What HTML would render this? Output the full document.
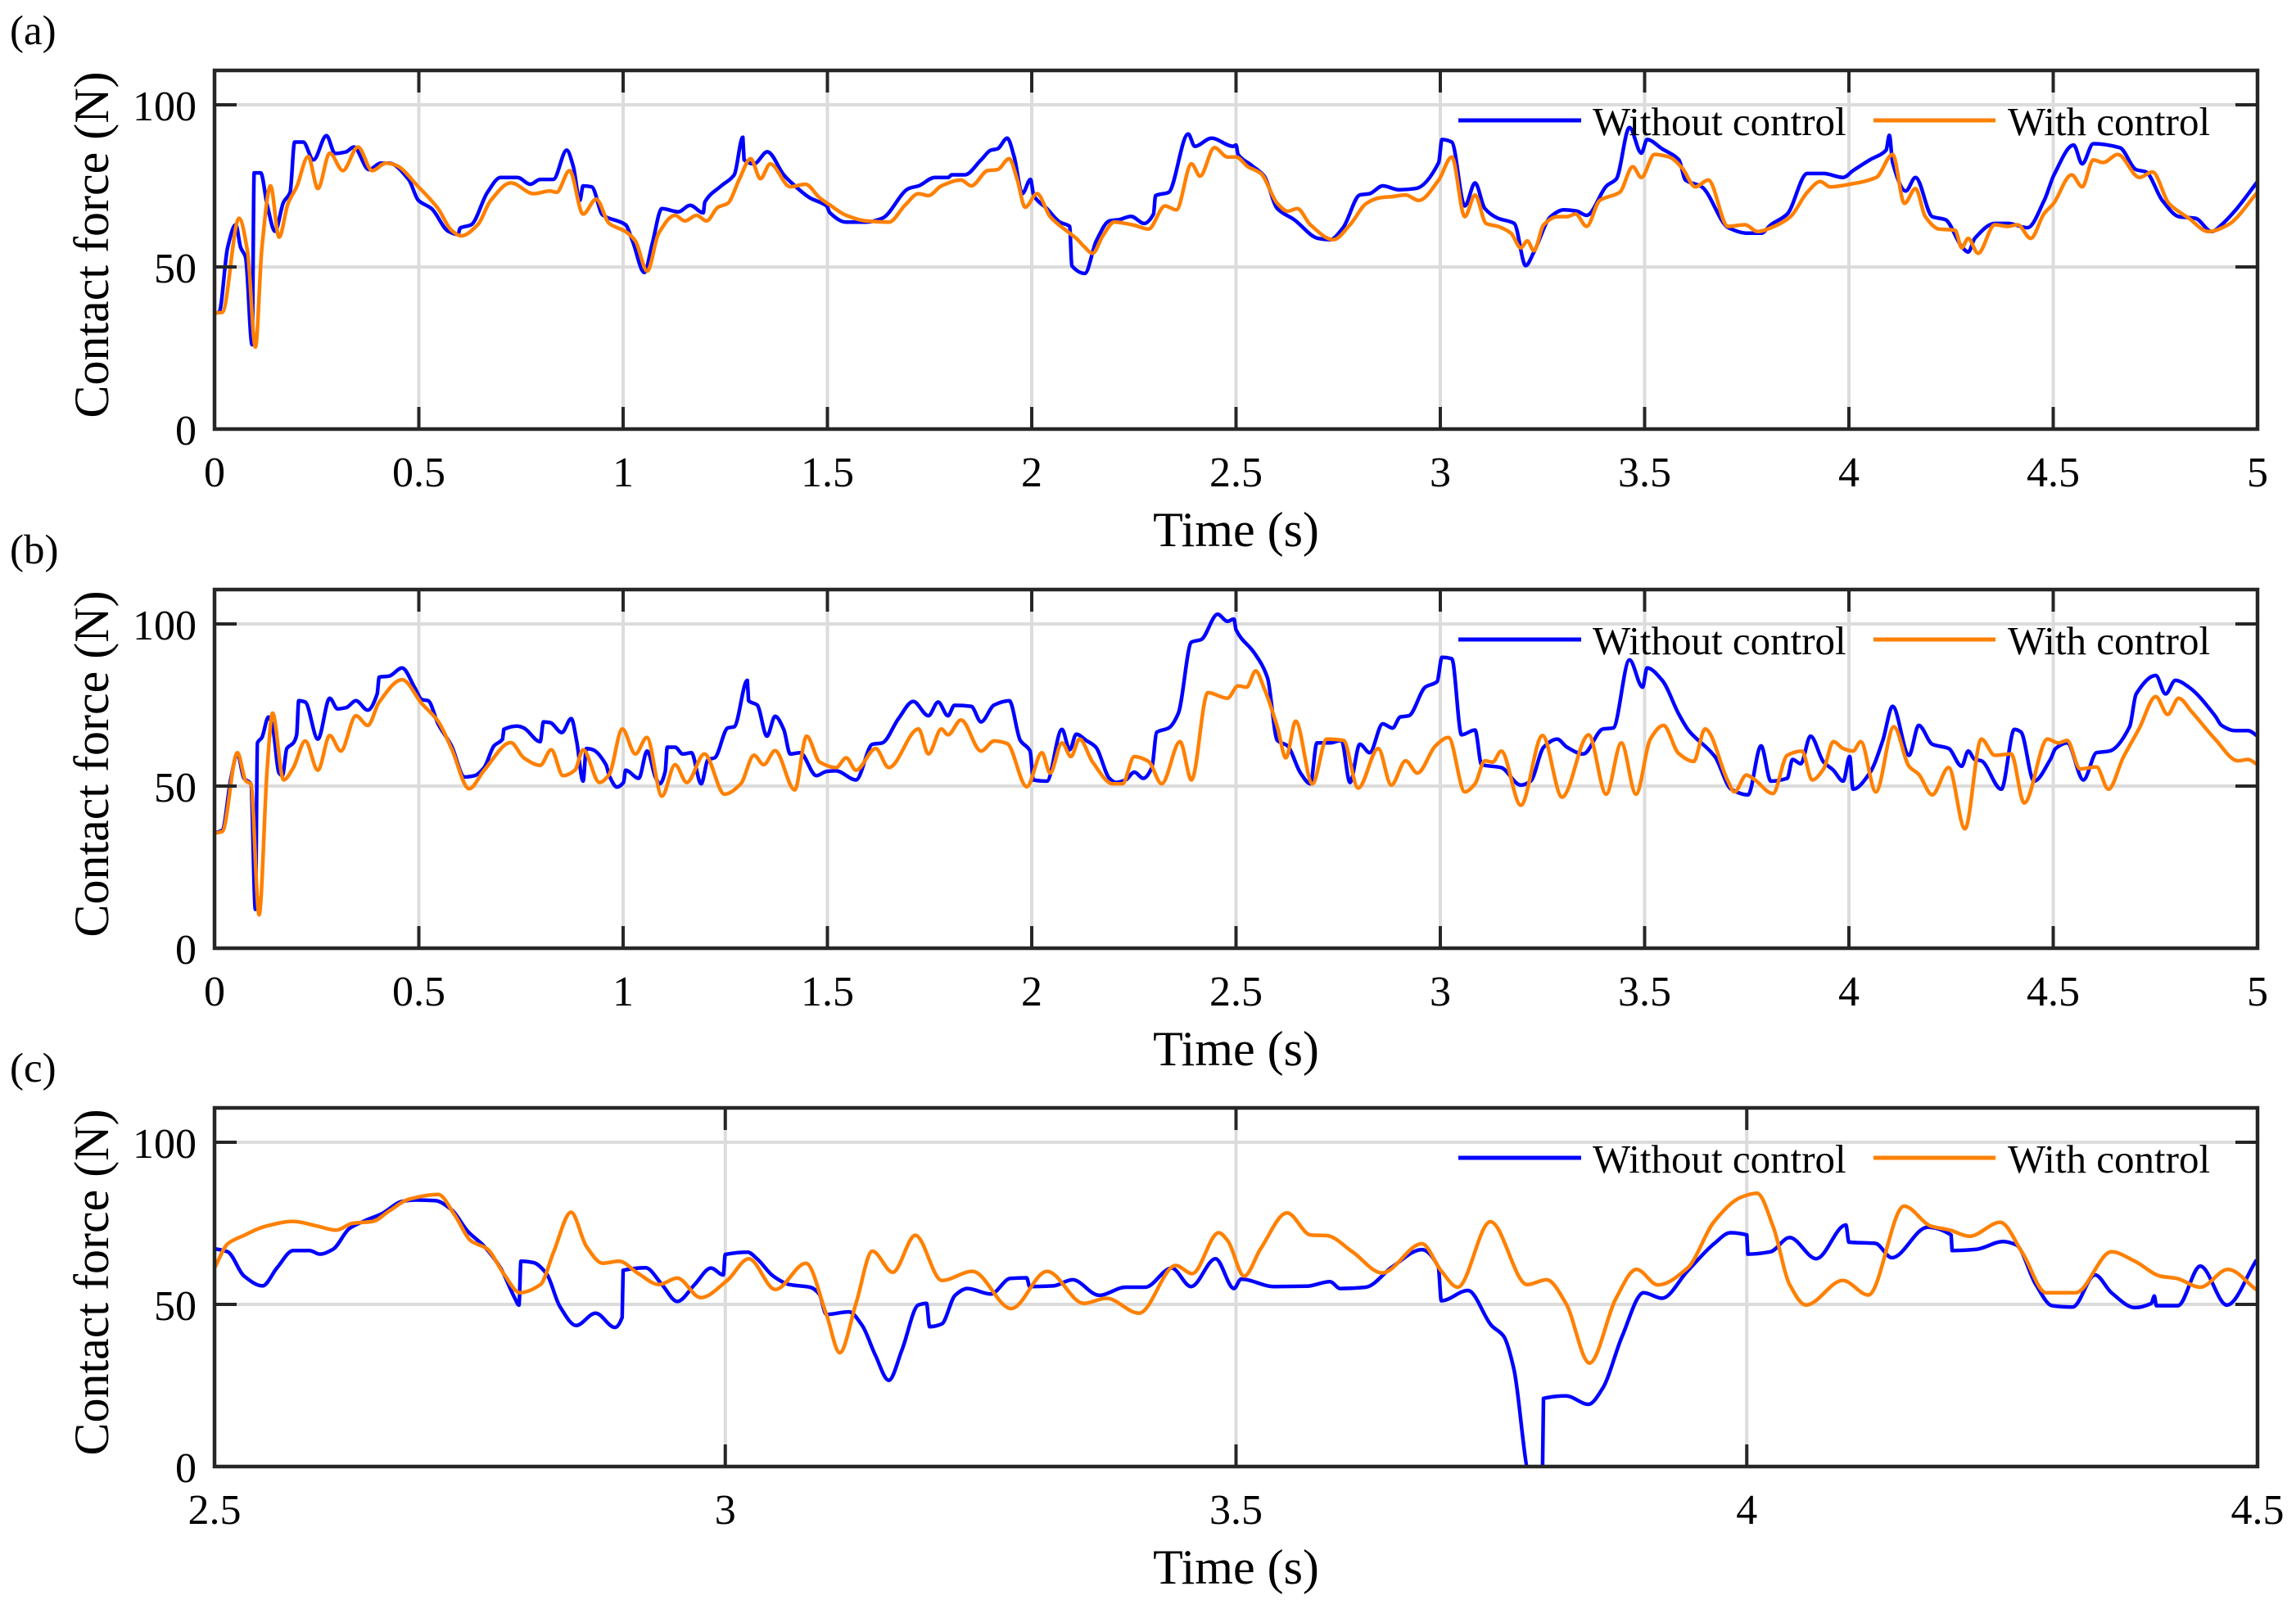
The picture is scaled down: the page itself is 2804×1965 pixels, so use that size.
<!DOCTYPE html>
<html><head><meta charset="utf-8"><title>Contact force</title>
<style>
html,body{margin:0;padding:0;background:#fff;}
svg{display:block;font-family:"Liberation Serif","Times New Roman",serif;}
</style></head>
<body>
<svg id="fig" xmlns="http://www.w3.org/2000/svg" width="2804" height="1965" viewBox="0 0 2804 1965">
<rect x="0" y="0" width="2804" height="1965" fill="#fff"/>
</svg>
<script>
// ---------- Panel (a) data ----------
const aBlueT=[0,.011,.032,.052,.064,.076,.092,.097,.113,.129,.148,.169,.185,.196,.217,.242,.274,.295,.322,.341,.378,.407,.427,.475,.499,.531,.572,.596,.601,.628,.668,.700,.741,.773,.797,.829,.862,.878,.894,.902,.923,.950,1.006,1.023,1.052,1.071,1.095,1.135,1.164,1.196,1.200,1.240,1.272,1.293,1.296,1.320,1.353,1.393,1.409,1.457,1.498,1.506,1.546,1.594,1.634,1.699,1.723,1.763,1.796,1.804,1.836,1.876,1.900,1.916,1.940,1.957,1.977,1.997,2.005,2.037,2.069,2.093,2.098,2.130,2.158,2.190,2.214,2.243,2.275,2.298,2.303,2.335,2.383,2.399,2.440,2.493,
2.5,2.505,2.537,2.569,2.601,2.642,2.701,2.730,2.762,2.803,2.827,2.859,2.899,2.940,2.996,3.004,3.028,3.060,3.085,3.109,3.141,3.181,3.209,3.229,3.270,3.302,3.334,3.358,3.407,3.431,3.463,3.492,3.506,3.543,3.584,3.600,3.640,3.705,3.753,3.785,3.809,3.849,3.898,3.938,3.986,4.010,4.051,4.091,4.099,4.107,4.139,4.163,4.204,4.236,4.276,4.292,4.308,4.357,4.389,4.437,4.478,4.502,4.550,4.571,4.598,4.663,4.703,4.727,4.767,4.808,4.848,4.888,4.912,4.944,5.0];
const aBlueV=[35.8,36,56,63,56,53,26,79,79,69,61,70,73,88.5,88.5,83,90.5,85,85.5,87,80,82,82,77,70.5,68,61,60,62,63,73,77.6,77.6,75.5,77,77,86,81,70.5,75,74.7,66,63,58,48.3,57,68,67,69,66.7,70,75,78.4,90,83,81.8,85.5,78.4,76.3,71.3,68.8,66.7,63.8,63.8,65,74.2,75,77.6,77.6,78.4,78.4,83,86,86.4,89.7,84,72.6,77,72,68,63.8,62.5,50.4,48,58,64.2,64.6,65.6,63.4,66.3,72,73,91,87.2,89.7,87.2,
87.6,84.7,81.4,78,68,64.6,58.8,58.4,62.1,72.2,72.6,75,73.8,74.2,82.2,89.3,88.5,68.8,75.9,68,65,63.4,50.4,54.6,65.5,67.6,67.2,65.9,75,77.2,93,85.1,89.3,86.4,83,76.8,74.7,62.1,60.4,60.4,63,66.3,78.8,78.8,77.6,79.7,83,86,90.6,82.2,73.4,77.6,65.5,64.6,56.3,54.6,58.8,63.4,63.4,62.1,70.5,78.4,87.6,81.8,88,86.8,80,79.3,70.5,65.5,65,60.9,63,67.2,76.3];
const aOrangeT=[0,.019,.060,.081,.100,.116,.137,.158,.180,.201,.229,.253,.282,.314,.351,.386,.419,.443,.499,.547,.580,.604,.644,.676,.725,.781,.821,.837,.869,.902,.934,.966,1.006,1.030,1.059,1.087,1.127,1.151,1.180,1.204,1.232,1.256,1.285,1.312,1.336,1.360,1.409,1.446,1.481,1.505,1.546,1.594,1.650,1.691,1.723,1.747,1.779,1.827,1.852,1.892,1.916,1.945,1.964,1.984,2.013,2.045,2.093,2.109,2.128,2.149,2.174,2.202,2.246,2.286,2.326,2.354,2.391,2.412,2.447,2.479,
2.5,2.529,2.561,2.601,2.626,2.650,2.682,2.738,2.779,2.819,2.851,2.883,2.915,2.947,2.996,3.028,3.060,3.085,3.112,3.141,3.173,3.197,3.213,3.229,3.253,3.286,3.310,3.331,3.358,3.390,3.439,3.471,3.492,3.524,3.560,3.592,3.624,3.656,3.704,3.745,3.777,3.817,3.857,3.898,3.930,3.954,4.002,4.067,4.107,4.136,4.163,4.187,4.220,4.260,4.276,4.292,4.316,4.357,4.389,4.413,4.445,4.477,4.501,4.545,4.571,4.598,4.622,4.658,4.711,4.743,4.783,4.832,4.880,4.928,5.0];
const aOrangeV=[35.8,36,65,54.6,25.3,56,75,59.2,69.6,74.7,84,74.2,85.1,79.7,87,79.7,82,81.4,74.7,68,61.3,59.6,63,70.5,75.9,72.6,73.4,73,79.7,66.3,70.9,63.4,60.9,58,48.7,60.4,65.9,64.2,65.9,64.2,68.4,69.6,77.2,83.4,77.2,81.8,74.7,75.5,71.3,69.2,65.9,64.2,63.8,69.2,72.6,72,75,76.8,75,79.7,80,83.4,77.2,68.4,72.6,65.5,60.4,58.8,56.3,54.2,59.6,63.8,63,61.7,68.8,67.6,81.8,78,86.8,83.9,
83.9,80.9,78.8,69.6,67.2,68,63,58.4,63,69.6,71.3,71.7,72.2,70.5,76.8,83.9,65.5,72.2,63.4,62.5,60.4,55.9,58,55,63,65.5,65.5,66.3,62.5,70.5,73,80.9,77.6,84.7,83.9,80.5,74.7,76.8,62.5,63,60.9,62.5,65.5,73,76.3,74.7,75.5,77.6,84.7,69.6,74.2,65.5,61.7,61.3,55.9,58.8,54.2,63,62.5,63,58.8,66.3,69.6,78.4,74.7,83,82.2,84.7,77.6,79.3,69.6,65,60.9,63,73];

// ---------- Panel (b) data ----------
const bBlueT=[0,.019,.040,.056,.072,.089,.100,.105,.116,.132,.142,.158,.166,.177,.193,.201,.206,.222,.253,.282,.301,.322,.346,.375,.398,.403,.427,.459,.491,.507,.523,.547,.580,.612,.636,.660,.684,.705,.708,.741,.757,.797,.805,.821,.850,.873,.886,.902,.910,.926,.958,.966,.985,1.001,1.006,1.038,1.059,1.079,1.090,1.103,1.108,1.127,1.146,1.167,1.191,1.208,1.224,1.256,1.272,1.304,1.307,1.328,1.352,1.372,1.393,1.409,1.433,1.473,1.497,1.521,1.570,1.610,1.634,1.674,1.710,1.747,1.771,1.795,1.811,1.852,1.876,1.908,1.945,1.972,1.996,2.004,2.037,2.074,2.093,2.109,2.133,2.157,2.190,2.206,2.230,2.251,2.273,2.294,2.306,2.335,2.359,2.391,2.415,2.455,2.479,2.495,
2.5,2.545,2.577,2.601,2.626,2.658,2.682,2.698,2.730,2.758,2.779,2.803,2.827,2.859,2.883,2.902,2.923,2.963,2.992,3.004,3.028,3.052,3.085,3.101,3.149,3.197,3.221,3.253,3.286,3.310,3.350,3.398,3.423,3.463,3.495,3.506,3.543,3.584,3.608,3.672,3.712,3.753,3.785,3.809,3.849,3.862,3.882,3.906,3.938,3.962,3.986,4.002,4.010,4.051,4.083,4.107,4.147,4.171,4.204,4.244,4.276,4.292,4.308,4.324,4.373,4.405,4.421,4.453,4.493,4.506,4.534,4.574,4.606,4.638,4.687,4.703,4.751,4.775,4.799,4.832,4.896,4.912,4.944,4.977,5.0];
const bBlueV=[35.5,36.4,52.4,60,52.4,50.7,12,63.3,65,71.3,68.3,54,53.2,61.6,63.3,65.8,76.3,75.9,64.5,77.1,73.8,74.2,76.3,73.4,78.4,83.6,83.9,86.4,80.1,76.7,76.3,69.2,62.4,52.8,53.2,55.7,62.4,64.5,67.5,68.5,67.9,63.7,69.8,69.6,66.5,70.8,64.1,51.5,61.6,61.2,56.6,53.2,49.7,51.1,54.9,52.4,60.8,52.8,50.7,54.5,62,62,59.9,60.3,50.7,58.2,58.7,67.9,68.3,82.6,76.3,75,65.4,71.5,67.5,59.9,60.3,53.2,54.5,54.7,51.9,62.9,63.3,70.8,76.1,71.7,75.9,71.7,74.9,74.6,69.8,75,76.3,64.1,60.8,51.9,51.5,67.5,61.2,66,64.1,62,52.4,51.1,51.9,54.3,52.4,55.7,66.6,67.9,72.5,94.4,95.2,103,100.8,101.5,
98.2,91,83.4,64.1,62.4,54,50.7,63.3,63.3,64.1,51.1,62.9,60.3,69.2,67.9,71.3,71.7,80.5,82.2,89.7,89.3,65.8,67.3,56.6,55.7,50.3,51.5,62,64.5,62,59.9,67.6,67.9,88.9,80.5,86.4,82.6,72.1,67.1,59.1,49,47.3,62.4,51.5,52.4,58.2,56.9,65.4,57.4,54.9,51.5,59.1,49,54,64.1,74.6,59.5,68.7,62.9,61.6,56.1,60.8,58.2,57.8,49,67.5,66.7,51.5,58.2,61.6,63.3,51.9,60.3,60.8,68.3,78.4,84.1,78.4,82.6,80.5,71.7,68.7,67.1,67.1,65.4];
const bOrangeT=[0,.019,.056,.077,.089,.109,.129,.142,.169,.193,.222,.253,.282,.309,.346,.375,.403,.459,.507,.547,.580,.623,.660,.725,.757,.797,.824,.853,.882,.902,.942,.966,.998,1.030,1.058,1.095,1.127,1.156,1.199,1.248,1.288,1.320,1.344,1.372,1.420,1.449,1.481,1.521,1.546,1.570,1.618,1.650,1.723,1.747,1.779,1.795,1.827,1.876,1.908,1.940,1.988,2.025,2.045,2.074,2.096,2.117,2.149,2.198,2.222,2.251,2.286,2.318,2.363,2.391,2.431,2.479,
2.505,2.526,2.548,2.569,2.601,2.622,2.646,2.687,2.722,2.763,2.799,2.848,2.880,2.915,2.944,2.988,3.020,3.060,3.085,3.109,3.128,3.149,3.197,3.250,3.298,3.363,3.406,3.443,3.479,3.514,3.546,3.583,3.620,3.648,3.704,3.720,3.749,3.769,3.814,3.849,3.885,3.910,3.938,3.962,3.986,4.010,4.029,4.066,4.110,4.147,4.171,4.204,4.244,4.284,4.324,4.357,4.397,4.429,4.486,4.513,4.534,4.566,4.606,4.635,4.671,4.711,4.751,4.780,4.807,4.839,4.896,4.952,4.977,5.0];
const bOrangeV=[35.5,36,60.3,51.5,50.7,10.3,55.7,72.5,51.9,55.7,63.9,54.9,65.6,60.8,71.7,68.7,75.9,82.8,75.5,70,61.6,49.2,54.9,63.4,58.7,56.4,61.2,53.2,54.9,61.2,51.1,53.6,67.6,59.9,65,46.9,56.6,51.1,59.9,47.5,50.7,59.5,56.6,60.9,48.8,65.4,57.4,55.7,58.7,54.9,61.6,55.7,67.6,59.9,67.6,65.8,70.4,60.8,63.9,63.1,49.8,60.3,54,63.3,59.1,64.5,57.4,50.7,50.7,59.1,57.6,50.7,63.7,51.9,78.8,77.1,
80.9,80.5,85.5,80.1,68.3,58.7,70,50.7,64.5,64.1,49.4,61.6,50.3,57.8,54,62.4,65,48.2,50.7,57.8,57.4,60.8,44.1,65.6,46.6,65.8,47.5,63.3,47.5,64.5,68.7,60.1,57.6,67.6,51.5,48.2,53.4,52,47.7,59.5,60.8,51.9,55.3,63.7,61.6,60.8,63.7,48.2,68.3,56.1,53.6,47.3,55.7,36.8,64.5,59.5,59.9,44.8,64.5,63.3,64.1,55.3,55.9,49,58.7,67.9,77.6,72.1,77.1,72.9,64.5,57.8,58.2,56.6];

// ---------- Panel (c) data ----------
const cBlueT=[2.5,2.513,2.529,2.547,2.561,2.577,2.593,2.603,2.616,2.632,2.648,2.664,2.684,2.697,2.716,2.732,2.748,2.764,2.780,2.794,2.798,2.800,2.812,2.825,2.838,2.854,2.873,2.892,2.899,2.900,2.922,2.938,2.953,2.970,2.986,2.998,3.000,3.022,3.031,3.047,3.063,3.083,3.092,3.099,3.121,3.134,3.147,3.160,3.173,3.189,3.197,3.200,3.212,3.225,3.237,3.260,3.279,3.295,3.298,3.321,3.340,3.366,3.392,3.411,3.437,3.456,3.480,3.498,
3.505,3.537,3.569,3.592,3.602,3.627,3.653,3.682,3.698,3.701,3.727,3.750,3.762,3.772,3.788,3.800,3.801,3.823,3.845,3.859,3.878,3.899,3.917,3.942,3.968,3.984,4.000,4.001,4.023,4.042,4.068,4.097,4.100,4.126,4.142,4.177,4.200,4.201,4.225,4.251,4.264,4.283,4.299,4.319,4.341,4.357,4.380,4.396,4.399,4.401,4.422,4.444,4.470,4.499];
const cBlueV=[67.2,66.2,58.7,55.7,61.2,66.6,66.6,65.5,67,73.4,75.9,78,81.8,82.2,82,79.2,72.5,67.9,61.2,51.9,49.8,63.3,62.9,59.5,49.4,43.5,47.3,42.9,46,60.5,61.3,56.1,50.9,56.1,61.2,59.1,65.4,66.1,64.1,58.7,56.1,55.3,53.2,46.9,47.7,43.5,34.3,26.6,36,49.8,50.3,43.1,44,52.8,54.9,53.2,58,58.2,55.5,55.7,57.6,52.8,55.3,55.3,61.2,55.5,64.1,54.9,
57.8,55.5,55.6,57,54.9,55.3,61.6,66.9,61.6,51.1,54.3,43.5,40.2,30.1,-3,-3,21,21.8,19.2,24.2,40.2,53.6,51.9,60.3,68.7,72.1,71.4,65.5,66.2,70.6,64.1,74.5,69.2,68.8,64.4,73.8,71.4,66.6,67,69.4,68.3,56.1,49.6,49.2,59.1,53.6,49,50.3,52.6,49.6,49.6,61.8,49.8,63.7];
const cOrangeT=[2.5,2.513,2.529,2.548,2.577,2.600,2.619,2.635,2.655,2.671,2.690,2.719,2.735,2.751,2.767,2.783,2.799,2.819,2.832,2.849,2.864,2.880,2.896,2.915,2.935,2.953,2.976,3.002,3.023,3.049,3.079,3.099,3.112,3.128,3.144,3.164,3.186,3.212,3.242,3.280,3.315,3.351,3.373,3.405,3.441,3.457,3.483,
3.492,3.508,3.524,3.550,3.573,3.589,3.614,3.643,3.682,3.701,3.717,3.749,3.785,3.804,3.823,3.846,3.872,3.892,3.913,3.942,3.968,3.994,4.010,4.026,4.042,4.058,4.094,4.119,4.154,4.180,4.199,4.218,4.248,4.270,4.293,4.322,4.357,4.380,4.405,4.421,4.444,4.471,4.499];
const cOrangeV=[61.2,68.7,71.3,73.9,75.6,74.2,72.9,75,75.6,78.8,82.4,83.9,77.6,69.6,67.1,59.5,53.6,56.1,66.2,78.4,67.9,62.7,63.3,59.5,56.1,58.1,52.1,57.4,64.1,54.6,62.7,46.9,35.1,50.3,66.4,59.9,71.3,57.4,60.2,48.7,60.2,50.3,51.9,47.3,62,59.5,72.1,
69.6,58.7,67.1,78.2,71.4,71.2,66.2,59.7,68.7,60.3,55.3,75.5,56.1,57.6,50.3,31.9,51.9,60.8,56,61.2,75.5,83,84.3,73.8,56.1,49.8,57.4,52.9,80.3,74.2,72.9,71,75.3,65.8,53.6,53.6,66.2,63.3,58.7,58,55.3,60.8,54.5];

// ---------- Axis labels / ticks ----------
const xTicksAB=[0,0.5,1,1.5,2,2.5,3,3.5,4,4.5,5];
const xTickLabelsAB=["0","0.5","1","1.5","2","2.5","3","3.5","4","4.5","5"];
const xTicksC=[2.5,3,3.5,4,4.5];
const xTickLabelsC=["2.5","3","3.5","4","4.5"];
const yTicks=[0,50,100];
const yTickLabels=["0","50","100"];
const panelLetters=["(a)","(b)","(c)"];
const legendLabels=["Without control","With control"];

const NS="http://www.w3.org/2000/svg";
const svg=document.getElementById('fig');
const L=262,R=2757,H=438,YMAX=110.6;
const BLUE="#0000ff",ORANGE="#ff8000",AX="#262626",GRID="#dcdcdc";

function mk(tag,attrs,parent){
  const e=document.createElementNS(NS,tag);
  for(const k in attrs) e.setAttribute(k,attrs[k]);
  (parent||svg).appendChild(e);
  return e;
}

// monotone cubic (Fritsch-Carlson) path through pixel points
function monoPath(px,py){
  const n=px.length;
  if(n<2) return '';
  const d=[],m=new Array(n);
  for(let i=0;i<n-1;i++){const dx=px[i+1]-px[i];d.push(dx>0.01?(py[i+1]-py[i])/dx:(py[i+1]>py[i]?1e6:-1e6));}
  m[0]=d[0];m[n-1]=d[n-2];
  for(let i=1;i<n-1;i++){
    if(d[i-1]*d[i]<=0) m[i]=0;
    else m[i]=2/(1/d[i-1]+1/d[i]);
  }
  let s='M'+px[0].toFixed(1)+','+py[0].toFixed(1);
  for(let i=0;i<n-1;i++){
    const dx=px[i+1]-px[i];
    if(dx<1.5||Math.abs(d[i])>=1e5){s+='L'+px[i+1].toFixed(1)+','+py[i+1].toFixed(1);continue;}
    let m0=m[i],m1=m[i+1];
    if(Math.abs(m0)>1e5) m0=d[i];
    if(Math.abs(m1)>1e5) m1=d[i];
    const c1x=px[i]+dx/3,c1y=py[i]+m0*dx/3,c2x=px[i+1]-dx/3,c2y=py[i+1]-m1*dx/3;
    s+='C'+c1x.toFixed(1)+','+c1y.toFixed(1)+' '+c2x.toFixed(1)+','+c2y.toFixed(1)+' '+px[i+1].toFixed(1)+','+py[i+1].toFixed(1);
  }
  return s;
}

function drawPanel(idx,top,xmin,xmax,ticks,tickLabels,series){
  const bottom=top+H;
  const xs=t=>L+(t-xmin)/(xmax-xmin)*(R-L);
  const ys=v=>bottom-v/YMAX*H;
  const g=mk('g',{});
  
  
  const cp=mk('clipPath',{id:'clip'+idx},g);
  mk('rect',{x:L,y:top,width:R-L,height:H},cp);
  ticks.forEach((t,i)=>{
    const ln=mk('line',{x1:xs(t),x2:xs(t),y1:top,y2:bottom,stroke:GRID,'stroke-width':4},g);
    
    
  });
  yTicks.forEach(v=>{
    const ln=mk('line',{x1:L,x2:R,y1:ys(v),y2:ys(v),stroke:GRID,'stroke-width':4},g);
    
    
  });
  series.forEach(s=>{
    const n=Math.min(s.t.length,s.v.length);
    const px=[],py=[];
    for(let i=0;i<n;i++){px.push(xs(s.t[i]));py.push(ys(s.v[i]));}
    const p=mk('path',{d:monoPath(px,py),fill:'none',stroke:s.color,'stroke-width':4.5,'stroke-linejoin':'round','clip-path':'url(#clip'+idx+')'},g);
    
    
  });
  ticks.forEach((t,i)=>{
    const x=xs(t);
    const t1=mk('line',{x1:x,x2:x,y1:bottom,y2:bottom-27,stroke:AX,'stroke-width':4},g);
    
    
    const t2=mk('line',{x1:x,x2:x,y1:top,y2:top+27,stroke:AX,'stroke-width':4},g);
    
    
    const lb=mk('text',{x:x,y:bottom+70,'font-size':52,'text-anchor':'middle',fill:'#000'},g);
    lb.textContent=tickLabels[i];
    
    
  });
  yTicks.forEach((v,i)=>{
    const y=ys(v);
    const t1=mk('line',{x1:L,x2:L+27,y1:y,y2:y,stroke:AX,'stroke-width':4},g);
    
    
    const t2=mk('line',{x1:R,x2:R-27,y1:y,y2:y,stroke:AX,'stroke-width':4},g);
    
    
    const lb=mk('text',{x:240,y:y+19,'font-size':52,'text-anchor':'end',fill:'#000'},g);
    lb.textContent=yTickLabels[i];
    
    
  });
  const fr=mk('rect',{x:L,y:top,width:R-L,height:H,fill:'none',stroke:AX,'stroke-width':4.5},g);
  
  
  const xl=mk('text',{x:(L+R)/2,y:bottom+143,'font-size':60,'text-anchor':'middle',fill:'#000'},g);
  xl.textContent='Time (s)';
  
  
  const cy=top+H/2-6;
  const yl=mk('text',{x:0,y:0,'font-size':60,'text-anchor':'middle',fill:'#000',transform:'translate(132,'+cy+') rotate(-90)'},g);
  yl.textContent='Contact force (N)';
  
  
  const pl=mk('text',{x:12,y:top-32,'font-size':51,fill:'#000'},g);
  pl.textContent=panelLetters[idx];
  
  
  const lg=mk('g',{},g);
  
  
  const ly=top+61, lt=top+79;
  const l1=mk('line',{x1:1781,x2:1931,y1:ly,y2:ly,stroke:BLUE,'stroke-width':5},lg);
  
  
  const tx1=mk('text',{x:1945,y:lt,'font-size':49,fill:'#000'},lg);
  tx1.textContent=legendLabels[0];
  
  
  const l2=mk('line',{x1:2288,x2:2437,y1:ly,y2:ly,stroke:ORANGE,'stroke-width':5},lg);
  
  
  const tx2=mk('text',{x:2452,y:lt,'font-size':49,fill:'#000'},lg);
  tx2.textContent=legendLabels[1];
  
  
}

drawPanel(0,86,0,5,xTicksAB,xTickLabelsAB,[
  {t:aBlueT,v:aBlueV,color:BLUE,name:'line-without-control'},
  {t:aOrangeT,v:aOrangeV,color:ORANGE,name:'line-with-control'}]);
drawPanel(1,720,0,5,xTicksAB,xTickLabelsAB,[
  {t:bBlueT,v:bBlueV,color:BLUE,name:'line-without-control'},
  {t:bOrangeT,v:bOrangeV,color:ORANGE,name:'line-with-control'}]);
drawPanel(2,1353,2.5,4.5,xTicksC,xTickLabelsC,[
  {t:cBlueT,v:cBlueV,color:BLUE,name:'line-without-control'},
  {t:cOrangeT,v:cOrangeV,color:ORANGE,name:'line-with-control'}]);
</script>
</body></html>
